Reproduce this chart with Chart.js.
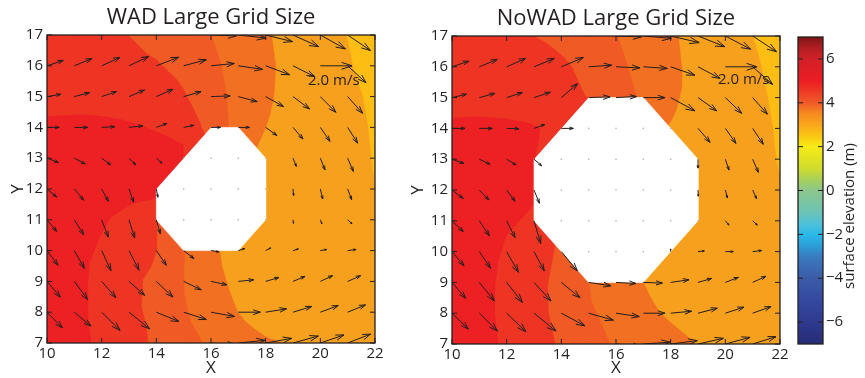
<!DOCTYPE html>
<html>
<head>
<meta charset="utf-8">
<script src="https://cdn.jsdelivr.net/npm/chart.js@4.4.0/dist/chart.umd.min.js"></script>
<style>
  html, body { margin: 0; padding: 0; background: #fff; }
  #wrap { position: relative; width: 865px; height: 378px; overflow: hidden; }
  canvas { position: absolute; top: 0; }
</style>
</head>
<body>
<div id="wrap">
  <canvas id="wad" width="400" height="378" style="left:0"></canvas>
  <canvas id="nowad" width="395" height="378" style="left:400px"></canvas>
  <canvas id="cbar" width="75" height="378" style="left:790px"></canvas>
</div>
<script>
// grid of the velocity field
var gridX = [10, 11, 12, 13, 14, 15, 16, 17, 18, 19, 20, 21];
var gridY = [17, 16, 15, 14, 13, 12, 11, 10, 9, 8, 7];
var xTicks = [10, 12, 14, 16, 18, 20, 22];
var yTicks = [7, 8, 9, 10, 11, 12, 13, 14, 15, 16, 17];
var cbTicks = [-6, -4, -2, 0, 2, 4, 6];

// velocity (m/s), rows follow gridY, columns follow gridX; null = reference arrow slot
var wadU = [
  [1.10, 1.20, 1.25, 1.30, 1.45, 1.50, 1.60, 1.75, 1.70, 1.62, 1.58, 1.44],
  [1.03, 1.12, 1.16, 1.24, 1.41, 1.43, 1.47, 1.53, 1.51, 1.37, null, 1.16],
  [0.88, 0.96, 0.94, 0.98, 1.05, 1.10, 1.21, 1.19, 1.13, 1.04, 0.98, 0.94],
  [0.77, 0.84, 0.84, 0.88, 0.67, 0.63, 0.60, 0.70, 0.71, 0.63, 0.61, 0.63],
  [0.73, 0.69, 0.57, 0.42, 0.36, 0.00, 0.00, 0.00, 0.00, 0.21, 0.29, 0.36],
  [0.61, 0.59, 0.42, 0.29, 0.10, 0.00, 0.00, 0.00, 0.00, 0.04, 0.15, 0.25],
  [0.61, 0.59, 0.42, 0.36, 0.25, 0.00, 0.00, 0.00, 0.00, 0.03, 0.10, 0.27],
  [0.69, 0.63, 0.59, 0.63, 0.63, 0.65, 0.50, 0.40, 0.32, 0.34, 0.40, 0.53],
  [0.84, 0.84, 0.90, 0.99, 1.05, 1.11, 1.00, 0.97, 0.84, 0.76, 0.78, 0.82],
  [0.97, 1.05, 1.16, 1.30, 1.43, 1.43, 1.49, 1.39, 1.32, 1.18, 1.13, 1.13],
  [1.00, 1.10, 1.20, 1.30, 1.45, 1.50, 1.55, 1.70, 1.64, 1.60, 1.49, 1.45]
];
var wadV = [
  [0.35, 0.45, 0.50, 0.55, 0.50, 0.35, -0.05, -0.17, -0.37, -0.65, -0.78, -0.87],
  [0.30, 0.41, 0.47, 0.52, 0.48, 0.34, 0.13, -0.20, -0.50, -0.61, null, -0.95],
  [0.13, 0.22, 0.28, 0.37, 0.41, 0.28, 0.04, -0.28, -0.56, -0.69, -0.88, -0.93],
  [0.00, 0.00, 0.04, 0.09, 0.22, 0.12, 0.00, 0.00, -0.45, -0.65, -0.78, -0.88],
  [-0.24, -0.32, -0.37, -0.37, -0.28, 0.00, 0.00, 0.00, 0.00, -0.46, -0.65, -0.74],
  [-0.45, -0.63, -0.69, -0.74, -0.46, 0.00, 0.00, 0.00, 0.00, -0.37, -0.56, -0.60],
  [-0.65, -0.84, -0.97, -1.02, -0.78, 0.00, 0.00, 0.00, 0.00, -0.20, -0.22, -0.22],
  [-0.82, -1.00, -1.13, -1.10, -0.82, -0.45, -0.07, 0.11, 0.15, 0.09, 0.06, 0.06],
  [-0.88, -1.02, -0.91, -0.78, -0.88, -0.47, -0.19, 0.09, 0.22, 0.28, 0.32, 0.32],
  [-0.88, -0.78, -1.02, -0.93, -0.52, -0.41, -0.24, 0.00, 0.19, 0.32, 0.37, 0.41],
  [-0.90, -0.90, -0.95, -0.90, -0.55, -0.40, -0.10, 0.15, 0.26, 0.39, 0.45, 0.50]
];
var nowadU = [
  [1.15, 1.25, 1.30, 1.35, 1.45, 1.50, 1.60, 1.77, 1.80, 1.70, 1.60, 1.51],
  [1.07, 1.13, 1.20, 1.28, 1.39, 1.45, 1.51, 1.51, 1.53, 1.39, null, 1.26],
  [0.92, 0.99, 0.99, 1.03, 1.03, 1.35, 1.30, 1.37, 1.53, 1.18, 1.03, 0.93],
  [0.82, 0.82, 0.78, 0.69, 0.76, 0.00, 0.00, 0.00, 0.00, 0.76, 0.67, 0.67],
  [0.76, 0.67, 0.59, 0.48, 0.00, 0.00, 0.00, 0.00, 0.00, 0.00, 0.23, 0.36],
  [0.71, 0.61, 0.53, 0.34, 0.00, 0.00, 0.00, 0.00, 0.00, 0.02, 0.13, 0.25],
  [0.71, 0.63, 0.53, 0.42, 0.00, 0.00, 0.00, 0.00, 0.00, 0.00, 0.23, 0.29],
  [0.76, 0.71, 0.74, 0.65, 1.01, 0.00, 0.00, 0.00, 0.00, 0.40, 0.50, 0.57],
  [0.86, 0.95, 0.99, 1.07, 1.18, 1.41, 1.26, 1.20, 1.16, 0.86, 0.82, 0.84],
  [1.03, 1.14, 1.22, 1.39, 1.49, 1.56, 1.47, 1.37, 1.32, 1.22, 1.18, 1.16],
  [1.05, 1.15, 1.25, 1.40, 1.50, 1.55, 1.60, 1.70, 1.68, 1.60, 1.56, 1.47]
];
var nowadV = [
  [0.35, 0.45, 0.50, 0.50, 0.55, 0.30, -0.05, -0.13, -0.37, -0.60, -0.74, -0.88],
  [0.32, 0.41, 0.47, 0.47, 0.52, 0.09, -0.06, -0.09, -0.47, -0.65, null, -0.99],
  [0.19, 0.24, 0.28, 0.30, 0.78, 0.04, 0.06, 0.00, -0.74, -0.74, -0.88, -0.93],
  [0.00, 0.00, -0.02, 0.22, 0.00, 0.00, 0.00, 0.00, 0.00, -0.78, -0.84, -0.89],
  [-0.24, -0.28, -0.32, -0.37, 0.00, 0.00, 0.00, 0.00, 0.00, -0.50, -0.61, -0.74],
  [-0.47, -0.56, -0.63, -0.74, 0.00, 0.00, 0.00, 0.00, 0.00, -0.35, -0.45, -0.50],
  [-0.61, -0.84, -0.95, -1.27, 0.00, 0.00, 0.00, 0.00, 0.00, 0.00, -0.24, -0.24],
  [-0.80, -0.93, -1.16, -1.08, -1.08, 0.00, 0.00, 0.00, 0.15, 0.04, 0.00, 0.06],
  [-0.89, -1.04, -1.12, -1.04, -0.86, -0.19, -0.06, -0.04, 0.15, 0.22, 0.28, 0.34],
  [-0.89, -1.00, -1.04, -1.00, -0.71, -0.39, -0.19, 0.00, 0.11, 0.28, 0.34, 0.37],
  [-0.90, -0.95, -1.00, -1.00, -0.75, -0.40, -0.15, 0.10, 0.19, 0.32, 0.37, 0.41]
];

// filled contour bands, outlines in (x, y), painted back to front
var domain = [[10, 7], [22, 7], [22, 17], [10, 17]];
var wadBand3 = [[10, 7], [10, 17], [18.21, 17], [18.37, 16], [18.3, 15], [18.15, 14.4], [18, 14], [17, 12], [16.32, 10], [16.4, 9.5], [16.56, 9], [16.75, 8.5], [16.98, 8], [17.25, 7.7], [17.6, 7.45], [18, 7.2], [18.58, 7]];
var wadBand2 = [[10, 7], [10, 17], [16.0, 17], [16.2, 16.5], [16.38, 16], [16.58, 15], [16.64, 14], [16, 12], [15.05, 10], [15.0, 9.2], [15.0, 8.7], [15.1, 8.2], [15.25, 7.7], [15.7, 7]];
var wadBand1 = [[10, 7], [10, 17], [12.95, 17], [13.3, 16.7], [13.63, 16.4], [14.0, 16.2], [14.4, 15.85], [14.75, 15.55], [14.97, 15.27], [15.3, 14.7], [15.58, 14.19], [15.65, 14.0], [15.78, 13.78], [15, 12], [14, 11], [14, 10], [13.81, 9.48], [13.5, 9.05], [13.45, 8.18], [13.63, 7.53], [13.7, 7]];
var wadBand0 = [[10, 7], [10, 14.35], [11.0, 14.4], [11.55, 14.4], [12.2, 14.33], [12.77, 14.24], [13.4, 14.07], [14.0, 13.86], [14.5, 13.66], [14.97, 13.43], [14.97, 13.05], [15, 13], [14.5, 12.2], [14, 11.7], [13.14, 11.54], [12.35, 11.1], [11.92, 10.45], [11.55, 9.59], [11.47, 8.72], [11.49, 7.75], [11.61, 7]];
var wadBand5 = [[20.96, 17], [22, 17], [22, 12.2], [21.88, 13], [21.75, 14.1], [21.57, 15], [21.2, 16]];
var wadHole = [[16, 14], [17, 14], [18, 13], [18, 11], [17, 10], [15, 10], [14, 11], [14, 12]];

var nowadBand3 = [[10, 7], [10, 17], [18.28, 17], [18.4, 16], [18.4, 15.3], [18.22, 14.65], [18.04, 14.27], [17.9, 14.1], [18, 12], [17, 9], [17.27, 8.5], [17.61, 8.0], [18.1, 7.62], [18.6, 7.25], [18.9, 7]];
var nowadBand2 = [[10, 7], [10, 17], [16.05, 17], [16.25, 16.5], [16.45, 15.95], [16.63, 15.4], [16.76, 15], [16, 12], [15, 9], [15.11, 8.37], [15.48, 7.61], [15.78, 7]];
var nowadBand1 = [[10, 7], [10, 17], [12.98, 17], [13.4, 16.8], [13.77, 16.55], [14.1, 16.3], [14.38, 16.0], [14.62, 15.52], [14.87, 15.05], [15, 15], [14.5, 12], [13.77, 10.23], [13.59, 9.35], [13.5, 8.91], [13.52, 8.05], [13.65, 7.51], [13.77, 7]];
var nowadBand0 = [[10, 7], [10, 14.33], [10.96, 14.38], [12.06, 14.3], [12.85, 14.16], [13.22, 14.0], [13.16, 13.62], [13.04, 13.08], [13, 13], [13.5, 12], [13, 11.55], [12.55, 11.08], [12.0, 10.54], [11.7, 9.78], [11.57, 8.91], [11.55, 8.05], [11.63, 7.4], [11.7, 7]];
var nowadBand5 = [[21.02, 17], [22, 17], [22, 12.5], [21.88, 13], [21.76, 14], [21.57, 15], [21.33, 16]];
var nowadHole = [[15, 15], [17, 15], [19, 13], [19, 11], [17, 9], [15, 9], [13, 11], [13, 13]];

// jet colour scale as printed
var cbStops = [
  [-7, '#262b74'], [-6, '#2e3a8f'], [-5, '#3549a0'], [-4, '#3b5ba8'], [-3, '#3a7cc0'],
  [-2.5, '#2b9fd9'], [-2, '#2bb9ea'], [-1.5, '#4fc1d8'], [-1, '#6cc3b6'], [0, '#8cc68c'],
  [0.5, '#a8d05a'], [1, '#cfdc2c'], [2, '#f6eb16'], [2.5, '#fcc613'], [3, '#f9a51b'],
  [3.5, '#f68b1f'], [4, '#f15a29'], [4.5, '#ee3c24'], [5, '#ed1c24'], [6, '#d22027'],
  [6.5, '#b01e23'], [7, '#7e1416']
];

var ink = '#231f20';
var font = '"Open Sans", "DejaVu Sans", sans-serif';
var bandColors = ['#ed2024', '#ee3524', '#f05a24', '#f27022', '#f7a01e', '#fdbd13'];
var arrowScale = 0.58; // axis units per m/s

function drawArrow(ctx, x0, y0, x1, y1) {
  var dx = x1 - x0, dy = y1 - y0, a = 0.33, b = 0.33;
  ctx.beginPath();
  ctx.moveTo(x0, y0);
  ctx.lineTo(x1, y1);
  ctx.moveTo(x1 - a * (dx + b * dy), y1 - a * (dy - b * dx));
  ctx.lineTo(x1, y1);
  ctx.lineTo(x1 - a * (dx - b * dy), y1 - a * (dy + b * dx));
  ctx.stroke();
}

var quiverPlugin = {
  id: 'quiver',
  afterDatasetsDraw: function (chart, args, opts) {
    var ctx = chart.ctx, area = chart.chartArea;
    var xs = chart.scales.x, ys = chart.scales.y;
    ctx.save();
    ctx.beginPath();
    ctx.rect(area.left, area.top, area.right - area.left, area.bottom - area.top);
    ctx.clip();
    ctx.strokeStyle = ink;
    ctx.lineWidth = 1;
    opts.u.forEach(function (row, i) {
      row.forEach(function (u, j) {
        var v = opts.v[i][j];
        if (u === null) return;
        var x0 = xs.getPixelForValue(gridX[j]);
        var y0 = ys.getPixelForValue(gridY[i]);
        if (u === 0 && v === 0) {
          ctx.fillStyle = '#b0b0b0';
          ctx.fillRect(x0 - 0.7, y0 - 0.7, 1.4, 1.4);
          return;
        }
        drawArrow(ctx, x0, y0,
          xs.getPixelForValue(gridX[j] + arrowScale * u),
          ys.getPixelForValue(gridY[i] + arrowScale * v));
      });
    });
    // reference arrow and its label
    var r = opts.ref;
    drawArrow(ctx, xs.getPixelForValue(r.x), ys.getPixelForValue(r.y),
      xs.getPixelForValue(r.x + arrowScale * r.speed), ys.getPixelForValue(r.y));
    ctx.fillStyle = ink;
    ctx.font = '15px ' + font;
    ctx.textAlign = 'left';
    ctx.textBaseline = 'middle';
    ctx.fillText(r.speed.toFixed(1) + ' m/s', xs.getPixelForValue(r.tx), ys.getPixelForValue(r.ty));
    ctx.restore();
  }
};

var framePlugin = {
  id: 'frame',
  afterDraw: function (chart) {
    var ctx = chart.ctx, a = chart.chartArea, len = 5;
    ctx.save();
    ctx.strokeStyle = ink;
    ctx.lineWidth = 1.3;
    ctx.strokeRect(a.left, a.top, a.right - a.left, a.bottom - a.top);
    ctx.lineWidth = 1;
    ctx.beginPath();
    var xs = chart.scales.x;
    if (xs && xs.options.display) {
      xs.ticks.forEach(function (t) {
        var p = xs.getPixelForValue(t.value);
        ctx.moveTo(p, a.bottom); ctx.lineTo(p, a.bottom - len);
        ctx.moveTo(p, a.top); ctx.lineTo(p, a.top + len);
      });
    }
    var ys = chart.scales.y;
    ys.ticks.forEach(function (t) {
      var p = ys.getPixelForValue(t.value);
      ctx.moveTo(a.left, p); ctx.lineTo(a.left + len, p);
      ctx.moveTo(a.right, p); ctx.lineTo(a.right - len, p);
    });
    ctx.stroke();
    ctx.restore();
  }
};

function band(points, color, order) {
  return {
    data: points.map(function (p) { return { x: p[0], y: p[1] }; }),
    backgroundColor: color,
    borderColor: color,
    borderWidth: 0.6,
    pointRadius: 0,
    fill: 'shape',
    tension: 0,
    order: order
  };
}

function fieldChart(id, title, bands, hole, u, v, ref, yWidth, pad) {
  var datasets = [band(domain, bandColors[4], 10)];
  bands.forEach(function (b, k) { datasets.push(band(b.pts, bandColors[b.level], 9 - k)); });
  datasets.push(band(hole, '#ffffff', 1));
  return new Chart(document.getElementById(id), {
    type: 'line',
    data: { datasets: datasets },
    plugins: [quiverPlugin, framePlugin],
    options: {
      responsive: false,
      animation: false,
      events: [],
      layout: { padding: { left: 0, right: pad.right, top: 0, bottom: 0 } },
      plugins: {
        legend: { display: false },
        tooltip: { enabled: false },
        title: {
          display: true, text: title, color: ink, fullSize: false,
          font: { family: font, size: 22, weight: 'normal' },
          padding: { top: pad.titleTop, bottom: pad.titleBottom }
        },
        quiver: { u: u, v: v, ref: ref }
      },
      scales: {
        x: {
          type: 'linear', min: 10, max: 22,
          afterBuildTicks: function (s) { s.ticks = xTicks.map(function (t) { return { value: t }; }); },
          afterFit: function (s) { s.height = pad.xHeight; },
          grid: { display: false, drawTicks: false },
          border: { display: false },
          ticks: { color: ink, padding: 2, maxRotation: 0, font: { family: font, size: 15 } },
          title: { display: true, text: 'X', color: ink, padding: 0, font: { family: font, size: 17 } }
        },
        y: {
          type: 'linear', min: 7, max: 17,
          afterBuildTicks: function (s) { s.ticks = yTicks.map(function (t) { return { value: t }; }); },
          afterFit: function (s) { s.width = yWidth; },
          grid: { display: false, drawTicks: false },
          border: { display: false },
          ticks: { color: ink, padding: 4, font: { family: font, size: 15 } },
          title: { display: true, text: 'Y', color: ink, padding: 8, font: { family: font, size: 17 } }
        }
      }
    }
  });
}

fieldChart('wad', 'WAD Large Grid Size',
  [{ pts: wadBand3, level: 3 }, { pts: wadBand2, level: 2 }, { pts: wadBand1, level: 1 },
   { pts: wadBand0, level: 0 }, { pts: wadBand5, level: 5 }],
  wadHole, wadU, wadV,
  { x: 20, y: 16, speed: 2, tx: 19.55, ty: 15.53 },
  47, { right: 25, titleTop: 5, titleBottom: 3.6, xHeight: 35 });

fieldChart('nowad', 'NoWAD Large Grid Size',
  [{ pts: nowadBand3, level: 3 }, { pts: nowadBand2, level: 2 }, { pts: nowadBand1, level: 1 },
   { pts: nowadBand0, level: 0 }, { pts: nowadBand5, level: 5 }],
  nowadHole, nowadU, nowadV,
  { x: 20, y: 16, speed: 2, tx: 19.73, ty: 15.57 },
  52, { right: 15, titleTop: 6, titleBottom: 3.6, xHeight: 34 });

// colour bar
var colorbarPlugin = {
  id: 'colorbar',
  beforeDatasetsDraw: function (chart) {
    var ctx = chart.ctx, a = chart.chartArea, ys = chart.scales.y;
    var y0 = ys.getPixelForValue(-7), y1 = ys.getPixelForValue(7);
    var g = ctx.createLinearGradient(0, y0, 0, y1);
    cbStops.forEach(function (s) { g.addColorStop((s[0] + 7) / 14, s[1]); });
    ctx.save();
    ctx.fillStyle = g;
    ctx.fillRect(a.left, y1, a.right - a.left, y0 - y1);
    ctx.translate(60, 216);
    ctx.rotate(-Math.PI / 2);
    ctx.fillStyle = ink;
    ctx.font = '15px ' + font;
    ctx.textAlign = 'center';
    ctx.textBaseline = 'middle';
    ctx.fillText('surface elevation (m)', 0, 0);
    ctx.restore();
  }
};

new Chart(document.getElementById('cbar'), {
  type: 'bar',
  data: { labels: [''], datasets: [] },
  plugins: [colorbarPlugin, framePlugin],
  options: {
    responsive: false,
    animation: false,
    events: [],
    layout: { padding: { left: 8, right: 0, top: 37, bottom: 34 } },
    plugins: { legend: { display: false }, tooltip: { enabled: false } },
    scales: {
      x: { display: false },
      y: {
        position: 'right', min: -7, max: 7,
        afterBuildTicks: function (s) { s.ticks = cbTicks.map(function (t) { return { value: t }; }); },
        afterFit: function (s) { s.width = 42; },
        grid: { display: false, drawTicks: false },
        border: { display: false },
        ticks: {
          color: ink, padding: 3, font: { family: font, size: 15 },
          callback: function (val) { return val < 0 ? '\u2212' + Math.abs(val) : String(val); }
        }
      }
    }
  }
});
</script>
</body>
</html>
